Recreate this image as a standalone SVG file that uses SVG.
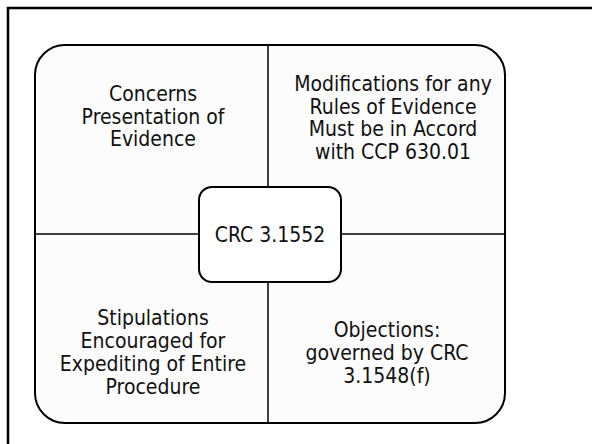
<svg xmlns="http://www.w3.org/2000/svg" width="592" height="444" viewBox="0 0 592 444">
  <style>
    .frame { fill: #ffffff; stroke: #000000; stroke-width: 2.5; }
    .panel { fill: #fcfcfc; stroke: #000000; stroke-width: 2; }
    .hub { fill: #ffffff; stroke: #000000; stroke-width: 2; }
    .rule { stroke: #000000; stroke-width: 1.5; fill: none; }
    .label { font-family: "DejaVu Sans Condensed", "DejaVu Sans", sans-serif; font-size: 21px; fill: #111111; text-anchor: middle; }
  </style>

  <!-- page frame (right and bottom edges run off the page) -->
  <rect class="frame" x="8" y="8" width="600" height="450"/>

  <!-- rounded panel holding the four quadrants -->
  <rect id="panel" class="panel" x="35" y="45" width="470" height="378" rx="30" ry="30"/>

  <!-- quadrant dividers -->
  <g id="connectors">
    <line class="rule" x1="268" y1="45" x2="268" y2="187"/>
    <line class="rule" x1="268" y1="282" x2="268" y2="423"/>
    <line class="rule" x1="35" y1="234" x2="199" y2="234"/>
    <line class="rule" x1="341" y1="234" x2="505" y2="234"/>
  </g>

  <g id="hub">
    <rect class="hub" x="199" y="187" width="142" height="95" rx="13" ry="13"/>
    <text class="label" x="270" y="242">CRC 3.1552</text>
  </g>

  <g id="quad-top-left">
    <text class="label" x="153" y="101">Concerns</text>
    <text class="label" x="153" y="123.5">Presentation of</text>
    <text class="label" x="153" y="146">Evidence</text>
  </g>

  <g id="quad-top-right">
    <text class="label" x="393" y="91">Modifications for any</text>
    <text class="label" x="393" y="113.5">Rules of Evidence</text>
    <text class="label" x="393" y="136">Must be in Accord</text>
    <text class="label" x="393" y="158.5">with CCP 630.01</text>
  </g>

  <g id="quad-bottom-left">
    <text class="label" x="153" y="325">Stipulations</text>
    <text class="label" x="153" y="348">Encouraged for</text>
    <text class="label" x="153" y="371">Expediting of Entire</text>
    <text class="label" x="153" y="394">Procedure</text>
  </g>

  <g id="quad-bottom-right">
    <text class="label" x="387" y="337">Objections:</text>
    <text class="label" x="387" y="360">governed by CRC</text>
    <text class="label" x="387" y="383">3.1548(f)</text>
  </g>
</svg>
